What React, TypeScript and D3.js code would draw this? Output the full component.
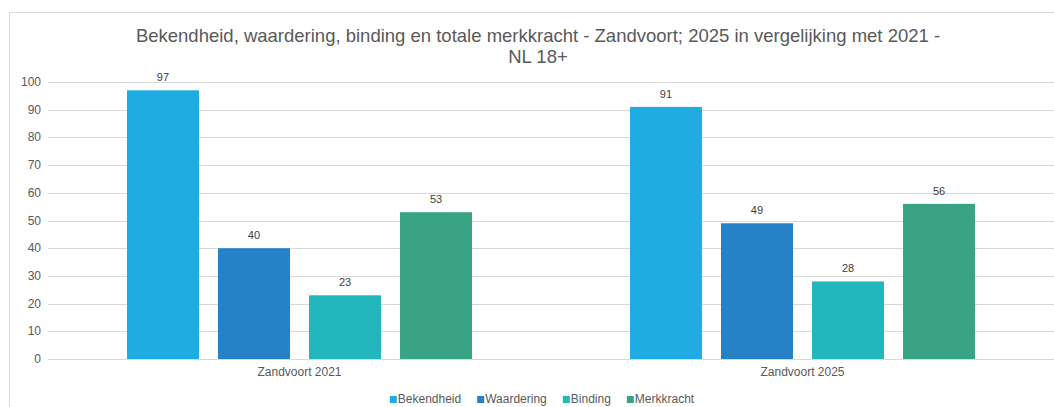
import { useRef, useEffect } from 'react';
import * as d3 from 'd3';

const categories = ['Zandvoort 2021', 'Zandvoort 2025'];
const seriesNames = ['Bekendheid', 'Waardering', 'Binding', 'Merkkracht'];
const bekendheid = [97, 91];
const waardering = [40, 49];
const binding = [23, 28];
const merkkracht = [53, 56];
const yTicks = [0, 10, 20, 30, 40, 50, 60, 70, 80, 90, 100];
const colors = ['#1face3', '#2682c6', '#22b7bc', '#39a484'];

const titleLines = [
  'Bekendheid, waardering, binding en totale merkkracht - Zandvoort; 2025 in vergelijking met 2021 -',
  'NL 18+',
];

export default function App() {
  const svgRef = useRef<SVGSVGElement>(null);
  const width = 1054;
  const height = 407;
  const margin = { top: 82, right: 0, bottom: 48, left: 48 };
  const font = 'Arial, "Liberation Sans", sans-serif';

  useEffect(() => {
    const svg = d3.select(svgRef.current);
    svg.selectAll('*').remove();

    const values = [bekendheid, waardering, binding, merkkracht];
    const rows = categories.map((cat, i) => ({
      cat,
      vals: seriesNames.map((s, j) => ({ s, j, v: values[j][i] })),
    }));

    const x0 = d3.scaleBand().domain(categories).range([margin.left, width - margin.right]);
    const x1 = d3.scaleBand().domain(seriesNames).range([0, x0.bandwidth()])
      .paddingInner(0.209).paddingOuter(0.868);
    const y = d3.scaleLinear().domain([0, 100]).range([height - margin.bottom, margin.top]);

    // chart frame
    svg.append('rect')
      .attr('x', 9.5).attr('y', 12.5)
      .attr('width', width + 20).attr('height', height + 20)
      .attr('fill', 'none').attr('stroke', '#d9d9d9').attr('stroke-width', 1);

    // title
    svg.append('g').selectAll('text').data(titleLines).join('text')
      .attr('x', 538)
      .attr('y', (d, i) => 42 + i * 21)
      .attr('text-anchor', 'middle')
      .attr('font-family', font)
      .attr('font-size', 18.5)
      .attr('fill', '#595959')
      .text(d => d);

    // grid
    svg.append('g').selectAll('line').data(yTicks).join('line')
      .attr('x1', margin.left).attr('x2', width - margin.right)
      .attr('y1', d => Math.round(y(d)) + 0.5).attr('y2', d => Math.round(y(d)) + 0.5)
      .attr('stroke', '#d9d9d9').attr('stroke-width', 1);

    svg.append('g').selectAll('text').data(yTicks).join('text')
      .attr('x', 41)
      .attr('y', d => y(d) + 4)
      .attr('text-anchor', 'end')
      .attr('font-family', font)
      .attr('font-size', 12)
      .attr('fill', '#595959')
      .text(d => d);

    // bars
    const groups = svg.append('g').selectAll('g').data(rows).join('g')
      .attr('transform', d => `translate(${x0(d.cat)},0)`);

    groups.selectAll('rect').data(d => d.vals).join('rect')
      .attr('x', d => x1(d.s)!)
      .attr('y', d => y(d.v))
      .attr('width', x1.bandwidth())
      .attr('height', d => y(0) - y(d.v))
      .attr('fill', d => colors[d.j]);

    groups.selectAll('text').data(d => d.vals).join('text')
      .attr('x', d => x1(d.s)! + x1.bandwidth() / 2)
      .attr('y', d => y(d.v) - 9)
      .attr('text-anchor', 'middle')
      .attr('font-family', font)
      .attr('font-size', 11)
      .attr('fill', '#404040')
      .text(d => d.v);

    // category labels
    svg.append('g').selectAll('text').data(categories).join('text')
      .attr('x', d => x0(d)! + x0.bandwidth() / 2)
      .attr('y', y(0) + 17)
      .attr('text-anchor', 'middle')
      .attr('font-family', font)
      .attr('font-size', 12)
      .attr('fill', '#595959')
      .text(d => d);

    // legend
    const legend = svg.append('g');
    const items = legend.selectAll('g').data(seriesNames).join('g');
    items.append('rect')
      .attr('width', 7).attr('height', 7)
      .attr('y', -7)
      .attr('fill', (d, i) => colors[i]);
    items.append('text')
      .attr('x', 8)
      .attr('font-family', font)
      .attr('font-size', 12)
      .attr('fill', '#595959')
      .text(d => d);
    let offset = 0;
    const positions: number[] = [];
    items.each(function () {
      positions.push(offset);
      const w = (d3.select(this).select('text').node() as SVGTextElement).getComputedTextLength();
      offset += 8 + w + 16;
    });
    const total = offset - 16;
    const start = 542 - total / 2;
    items.attr('transform', (d, i) => `translate(${start + positions[i]},403)`);
  }, []);

  return (
    <svg ref={svgRef} width={width} height={height}
      style={{ position: 'absolute', left: 0, top: 0, background: '#fff' }} />
  );
}
